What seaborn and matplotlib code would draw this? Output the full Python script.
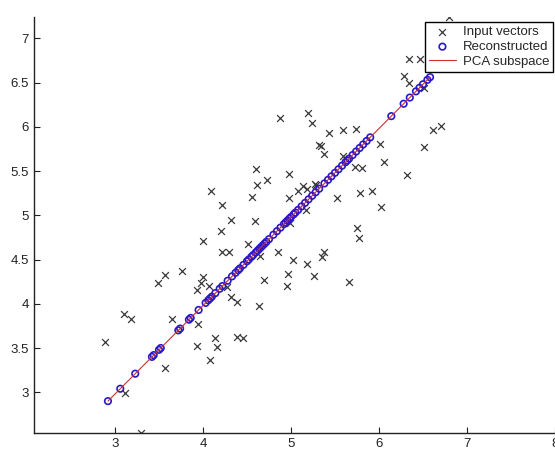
import seaborn as sns
import matplotlib.pyplot as plt

# input vectors
input_x = [6.80, 6.34, 6.47, 6.28, 6.34, 6.51, 6.70, 6.61, 6.51, 6.32, 6.06, 6.02,
           6.01, 5.78, 5.92, 5.52, 5.73, 5.81, 5.59, 5.38, 5.32, 5.34, 5.43, 5.59,
           5.74, 5.19, 5.24, 4.88, 4.98, 5.08, 5.14, 5.18, 5.28, 4.98, 5.17, 4.09,
           4.22, 4.32, 4.60, 4.61, 4.73, 4.56, 4.59, 4.99, 4.20, 4.00, 4.51, 4.22,
           4.30, 4.65, 4.85, 5.37, 5.35, 5.02, 5.18, 5.26, 4.97, 4.69, 4.95, 4.00,
           3.98, 3.93, 4.07, 4.32, 4.39, 4.64, 3.94, 4.14, 4.16, 4.39, 4.45, 3.57,
           3.49, 3.76, 3.10, 3.18, 3.65, 2.89, 3.93, 4.08, 3.57, 3.11, 3.30, 5.66,
           5.75, 5.77, 4.27, 5.27]
input_y = [7.24, 6.76, 6.76, 6.57, 6.49, 6.44, 6.01, 5.96, 5.77, 5.46, 5.60, 5.09,
           5.81, 5.25, 5.27, 5.20, 5.55, 5.53, 5.67, 5.69, 5.79, 5.78, 5.93, 5.96,
           5.98, 6.16, 6.04, 6.10, 5.47, 5.27, 5.33, 5.30, 5.34, 5.20, 5.06, 5.27,
           5.12, 4.95, 5.52, 5.34, 5.40, 5.21, 4.94, 4.91, 4.82, 4.71, 4.68, 4.59,
           4.59, 4.54, 4.59, 4.59, 4.53, 4.49, 4.45, 4.31, 4.34, 4.27, 4.20, 4.30,
           4.24, 4.16, 4.20, 4.08, 4.02, 3.97, 3.77, 3.61, 3.51, 3.63, 3.61, 4.32,
           4.23, 4.37, 3.88, 3.83, 3.83, 3.57, 3.52, 3.36, 3.27, 2.99, 2.54, 4.25,
           4.86, 4.74, 4.19, 5.35]

# reconstructed points on the principal axis
recon_x = [2.92, 3.06, 3.23, 3.42, 3.44, 3.50, 3.52, 3.72, 3.74, 3.84, 3.86, 3.95,
           4.03, 4.06, 4.08, 4.10, 4.14, 4.19, 4.22, 4.28, 4.33, 4.37, 4.40, 4.42,
           4.46, 4.50, 4.52, 4.55, 4.57, 4.60, 4.62, 4.64, 4.66, 4.68, 4.70, 4.72,
           4.75, 4.80, 4.84, 4.88, 4.92, 4.94, 4.96, 4.98, 5.00, 5.03, 5.05, 5.08,
           5.12, 5.16, 5.20, 5.24, 5.28, 5.32, 5.38, 5.42, 5.46, 5.50, 5.54, 5.58,
           5.62, 5.64, 5.66, 5.70, 5.74, 5.78, 5.82, 5.86, 5.90, 6.14, 6.28, 6.35,
           6.42, 6.46, 6.50, 6.55, 6.58]
recon_y = [2.90, 3.04, 3.21, 3.40, 3.42, 3.48, 3.50, 3.70, 3.72, 3.82, 3.84, 3.93,
           4.01, 4.04, 4.06, 4.08, 4.12, 4.17, 4.20, 4.26, 4.31, 4.35, 4.38, 4.40,
           4.44, 4.48, 4.50, 4.53, 4.55, 4.58, 4.60, 4.62, 4.64, 4.66, 4.68, 4.70,
           4.73, 4.78, 4.82, 4.86, 4.90, 4.92, 4.94, 4.96, 4.98, 5.01, 5.03, 5.06,
           5.10, 5.14, 5.18, 5.22, 5.26, 5.30, 5.36, 5.40, 5.44, 5.48, 5.52, 5.56,
           5.60, 5.62, 5.64, 5.68, 5.72, 5.76, 5.80, 5.84, 5.88, 6.12, 6.26, 6.33,
           6.40, 6.44, 6.48, 6.53, 6.56]

# PCA subspace segment
line_x = [2.92, 6.58]
line_y = [2.90, 6.56]

sns.set_style('ticks')
plt.rcParams['font.family'] = ['Liberation Sans', 'DejaVu Sans']

fig = plt.figure(figsize=(5.55, 4.5), dpi=100)
ax = fig.add_axes([0.0613, 0.0378, 0.9387, 0.9244])

sns.scatterplot(x=input_x, y=input_y, marker='x', s=24, color='#3a3a3a',
                linewidth=0.9, label='Input vectors', ax=ax, zorder=2)
sns.scatterplot(x=recon_x, y=recon_y, marker='o', s=22, facecolor='none',
                edgecolor='#2a18c8', linewidth=1.2, label='Reconstructed', ax=ax, zorder=3)
sns.lineplot(x=line_x, y=line_y, color='#d03030', linewidth=0.8,
             label='PCA subspace', ax=ax, zorder=4)

ax.set_xlim(2.08, 8.0)
ax.set_ylim(2.54, 7.24)
ax.set_xticks([3, 4, 5, 6, 7, 8])
ax.set_yticks([3, 3.5, 4, 4.5, 5, 5.5, 6, 6.5, 7])
ax.set_yticklabels(['3', '3.5', '4', '4.5', '5', '5.5', '6', '6.5', '7'])
ax.tick_params(direction='in', length=4, width=0.8, labelsize=9.5, colors='#222222')
sns.despine(ax=ax)
for s in ['left', 'bottom']:
    ax.spines[s].set_color('#222222')
    ax.spines[s].set_linewidth(1.0)

leg = ax.legend(loc='upper right', bbox_to_anchor=(0.997, 0.951),
                bbox_transform=fig.transFigure, fontsize=9.5, frameon=True,
                fancybox=False, framealpha=1, edgecolor='black',
                borderpad=0.3, handlelength=2.0, handletextpad=0.55,
                labelspacing=0.2, borderaxespad=0)
leg.get_frame().set_linewidth(1.0)

plt.savefig('out.png', dpi=100)
